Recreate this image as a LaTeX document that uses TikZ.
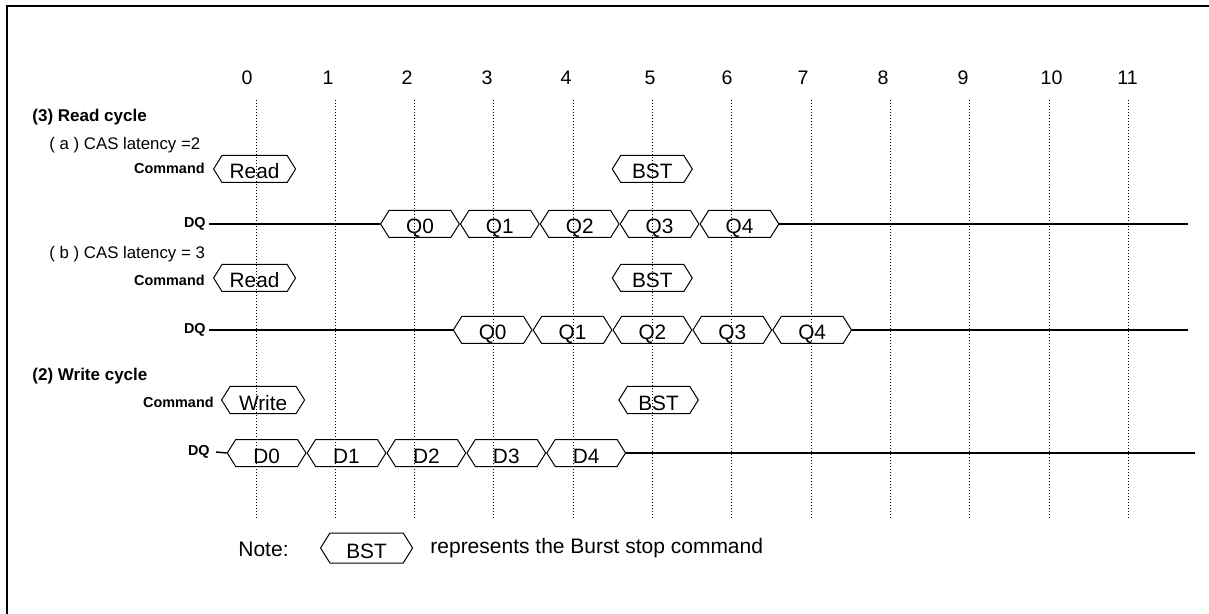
\documentclass[tikz,border=0pt]{standalone}
\usepackage{fontspec}
\setmainfont{Liberation Sans}
\usetikzlibrary{positioning,shapes.symbols}
\tikzset{
  bus/.style={draw, line width=0.5pt, shape=signal, signal to=west and east,
    signal pointer angle=116, minimum height=13.5pt, minimum width=39.35pt,
    inner sep=0pt, text height=10pt, text depth=0pt, font=\fontsize{10.4}{12}\selectfont},
  cyclenum/.style={inner sep=0pt, font=\fontsize{9.8}{11}\selectfont},
  sig/.style={inner sep=0pt, anchor=east, font=\bfseries\fontsize{7.2}{8}\selectfont},
  head/.style={inner sep=0pt, anchor=west, font=\bfseries\fontsize{8.5}{10}\selectfont},
  sub/.style={inner sep=0pt, anchor=west, font=\fontsize{8.4}{10}\selectfont},
  note/.style={inner sep=0pt, anchor=west, font=\fontsize{10.5}{12}\selectfont},
  wire/.style={line width=0.75pt},
  clockline/.style={densely dotted, line width=0.5pt}
}
\begin{document}
\begin{tikzpicture}[x=0.5pt,y=-0.5pt]
\useasboundingbox (0,0) rectangle (1209,614);
\draw[line width=1pt] (6.5,614) -- (6.5,6.5) -- (1209,6.5);
% clock numbers
\node[cyclenum] (c0) at (247,78) {0};
\node[cyclenum] (c1) at (328,78) {1};
\node[cyclenum] (c2) at (407,78) {2};
\node[cyclenum] (c3) at (487,78) {3};
\node[cyclenum] (c4) at (566,78) {4};
\node[cyclenum] (c5) at (650,78) {5};
\node[cyclenum] (c6) at (727,78) {6};
\node[cyclenum] (c7) at (803,78) {7};
\node[cyclenum] (c8) at (883,78) {8};
\node[cyclenum] (c9) at (963,78) {9};
\node[cyclenum] (c10) at (1051.5,78) {10};
\node[cyclenum] (c11) at (1127.5,78) {11};
\draw[clockline] (256,100) -- (256,520);
\draw[clockline] (335.3,100) -- (335.3,520);
\draw[clockline] (414.6,100) -- (414.6,520);
\draw[clockline] (493.9,100) -- (493.9,520);
\draw[clockline] (573.2,100) -- (573.2,520);
\draw[clockline] (652.5,100) -- (652.5,520);
\draw[clockline] (731.8,100) -- (731.8,520);
\draw[clockline] (811.1,100) -- (811.1,520);
\draw[clockline] (890.4,100) -- (890.4,520);
\draw[clockline] (969.7,100) -- (969.7,520);
\draw[clockline] (1049,100) -- (1049,520);
\draw[clockline] (1128.3,100) -- (1128.3,520);
% read cycle, CL=2
\node[head] (readhead) at (32,117) {(3) Read cycle};
\node[sub] (cla) at (49,145) {( a ) CAS latency =2};
\node[sig] (cmda) at (205,168) {Command};
\node[bus, minimum width=41pt, anchor=west] (rda) at (213,169) {Read};
\node[bus, minimum width=40pt, anchor=west] (bsta) at (611.7,169) {BST};
\node[sig] (dqa) at (206,224) {DQ};
\node[bus, anchor=west] (qa0) at (380,224) {Q0};
\node[bus, right=0pt of qa0] (qa1) {Q1};
\node[bus, right=0pt of qa1] (qa2) {Q2};
\node[bus, right=0pt of qa2] (qa3) {Q3};
\node[bus, right=0pt of qa3] (qa4) {Q4};
\coordinate (enda) at (1188,224);
\draw[wire] ([xshift=1.5pt]dqa.east) -- (qa0.west);
\draw[wire] (qa4.east) -- (enda);
% read cycle, CL=3
\node[sub] (clb) at (49,254) {( b ) CAS latency = 3};
\node[sig] (cmdb) at (205,280) {Command};
\node[bus, minimum width=41pt, anchor=west] (rdb) at (213,278) {Read};
\node[bus, minimum width=40pt, anchor=west] (bstb) at (611.7,278) {BST};
\node[sig] (dqb) at (206,330) {DQ};
\node[bus, anchor=west] (qb0) at (452.7,330) {Q0};
\node[bus, right=0pt of qb0] (qb1) {Q1};
\node[bus, right=0pt of qb1] (qb2) {Q2};
\node[bus, right=0pt of qb2] (qb3) {Q3};
\node[bus, right=0pt of qb3] (qb4) {Q4};
\coordinate (endb) at (1188,330);
\draw[wire] ([xshift=1.5pt]dqb.east) -- (qb0.west);
\draw[wire] (qb4.east) -- (endb);
% write cycle
\node[head] (writehead) at (32,376) {(2) Write cycle};
\node[sig] (cmdw) at (214,402) {Command};
\node[bus, minimum width=41.5pt, anchor=west] (wr) at (221,400) {Write};
\node[bus, minimum width=39.7pt, anchor=west] (bstw) at (618.3,400) {BST};
\node[sig] (dqw) at (210,452) {DQ};
\node[bus, anchor=west] (d0) at (226.7,453) {D0};
\node[bus, right=0pt of d0] (d1) {D1};
\node[bus, right=0pt of d1] (d2) {D2};
\node[bus, right=0pt of d2] (d3) {D3};
\node[bus, right=0pt of d3] (d4) {D4};
\coordinate (endw) at (1195,453);
\draw[wire] ([xshift=3pt]dqw.east) -- (d0.west);
\draw[wire] (d4.east) -- (endw);
% note
\node[note] (notelabel) at (238,549) {Note:};
\node[bus, minimum width=46pt, minimum height=15pt, anchor=west] (bstnote) at (320,548) {BST};
\node[note] (notetext) at (430,548) {represents the Burst stop command};
\end{tikzpicture}
\end{document}
